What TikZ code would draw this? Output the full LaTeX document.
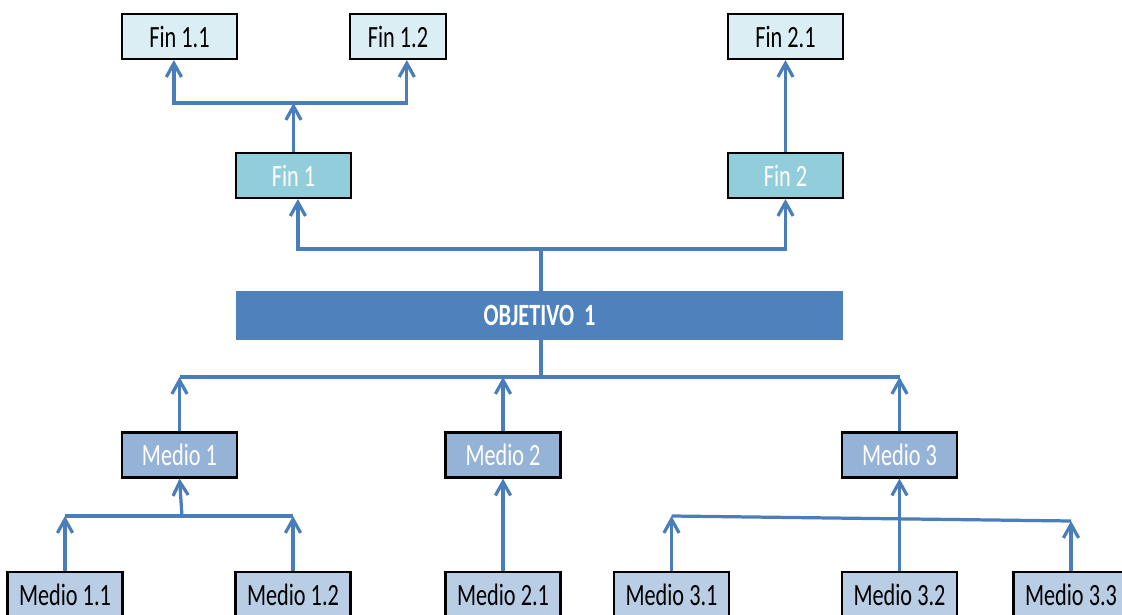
\documentclass[tikz,border=0pt]{standalone}
\usepackage{fontspec}
\setmainfont{Carlito}[FakeStretch=0.72]
\usetikzlibrary{arrows.meta}
\definecolor{azullinea}{HTML}{4A7EBB}
\definecolor{finclaro}{HTML}{DAEEF3}
\definecolor{finmedio}{HTML}{92CDDC}
\definecolor{objazul}{HTML}{4F81BD}
\definecolor{mediooscuro}{HTML}{95B3D7}
\definecolor{medioclaro}{HTML}{B9CDE5}
\begin{document}
\begin{tikzpicture}[x=0.025cm,y=-0.025cm,
    caja/.style={draw=black,line width=1.5pt,minimum width=2.875cm,minimum height=1.125cm,
      inner sep=0pt,font=\fontsize{22}{24}\selectfont},
    fin/.style={caja,fill=finclaro},
    finp/.style={caja,fill=finmedio,text=white},
    medio/.style={caja,fill=mediooscuro,text=white},
    submedio/.style={caja,fill=medioclaro},
    barra/.style={draw=azullinea,line width=2.3pt},
    flecha/.style={barra,-{Straight Barb[length=3.4mm,width=3.8mm]}}]
  \useasboundingbox (0,0) rectangle (1122,615);
  % fines
  \node[fin] (f11) at (179.5,36.5) {Fin 1.1};
  \node[fin,minimum width=2.4cm] (f12) at (398,36.5) {Fin 1.2};
  \node[fin] (f21) at (785.5,36.5) {Fin 2.1};
  \node[finp] (f1) at (293.5,175.5) {Fin 1};
  \node[finp] (f2) at (785.5,175.5) {Fin 2};
  % objetivo
  \node[fill=objazul,minimum width=15.175cm,minimum height=1.225cm,text=white,
    font=\fontsize{22}{24}\selectfont\bfseries] (obj) at (539.5,315.5) {OBJETIVO\ \ 1};
  % medios
  \node[medio] (m1) at (179.5,455) {Medio 1};
  \node[medio] (m2) at (503,455) {Medio 2};
  \node[medio] (m3) at (899.5,455) {Medio 3};
  \node[submedio] (m11) at (65,594.5) {Medio 1.1};
  \node[submedio] (m12) at (293,594.5) {Medio 1.2};
  \node[submedio] (m21) at (503,594.5) {Medio 2.1};
  \node[submedio] (m31) at (671.5,594.5) {Medio 3.1};
  \node[submedio] (m32) at (899.5,594.5) {Medio 3.2};
  \node[submedio] (m33) at (1071,594.5) {Medio 3.3};
  % puntos de union
  \coordinate (bf1) at (292,103);
  \coordinate (bobj) at (541,249);
  \coordinate (bmed) at (541,377);
  \coordinate (bm1) at (182,516);
  \coordinate (bm3a) at (671.5,516);
  \coordinate (bm3b) at (1071,521);
  % conectores hacia arriba
  \draw[flecha] (f1.north) -- (f1.north |- bf1);
  \draw[flecha] (bf1) -| ([xshift=-0.14cm]f11.south);
  \draw[flecha] (bf1) -| ([xshift=0.22cm]f12.south);
  \draw[flecha] (f2.north) -- (f21.south);
  \draw[barra] (obj.north -| bobj) -- (bobj);
  \draw[flecha] (bobj) -| ([xshift=0.11cm]f1.south);
  \draw[flecha] (bobj) -| (f2.south);
  \draw[barra] (obj.south -| bmed) -- (bmed);
  \draw[barra] (bmed -| m1.north) -- (bmed -| m3.north);
  \draw[flecha] (m1.north) -- (m1.north |- bmed);
  \draw[flecha] (m2.north) -- (m2.north |- bmed);
  \draw[flecha] (m3.north) -- (m3.north |- bmed);
  \draw[barra] (bm1 -| m11.north) -- (bm1 -| m12.north);
  \draw[flecha] (bm1) -- (m1.south);
  \draw[flecha] (m11.north) -- (m11.north |- bm1);
  \draw[flecha] (m12.north) -- (m12.north |- bm1);
  \draw[flecha] (m21.north) -- (m2.south);
  \draw[barra] (bm3a) -- (bm3b);
  \draw[flecha] (m31.north) -- (bm3a);
  \draw[flecha] (m33.north) -- (bm3b);
  \draw[flecha] (m32.north) -- (m3.south);
\end{tikzpicture}
\end{document}
